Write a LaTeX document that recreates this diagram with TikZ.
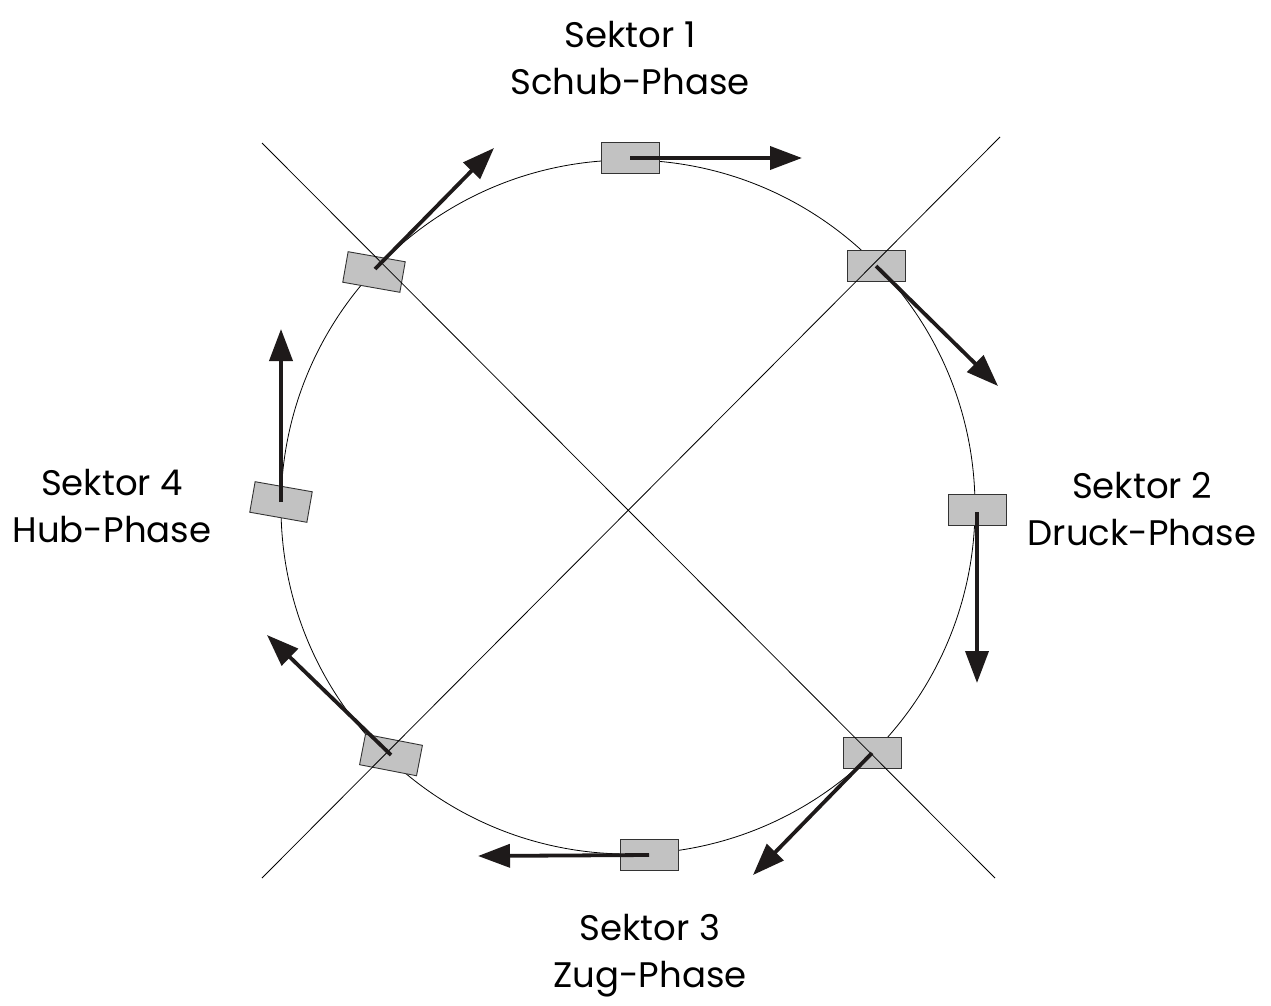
\documentclass[tikz,border=0pt]{standalone}
\usepackage{fontspec}
\setmainfont{Poppins}
\usetikzlibrary{arrows.meta}
\definecolor{boxgray}{RGB}{194,194,194}
\definecolor{inkdark}{RGB}{30,26,26}
\tikzset{
  slider/.style={draw=black!80, line width=0.9pt, fill=boxgray,
    minimum width=58pt, minimum height=31pt, inner sep=0pt},
  thinline/.style={line width=0.8pt, draw=black},
  push/.style={draw=inkdark, line width=3.8pt,
    -{Triangle[length=32pt,width=23pt]}},
  sectorlabel/.style={align=center, font=\fontsize{35.5}{47}\selectfont}
}
\begin{document}
\begin{tikzpicture}[x=1pt,y=-1pt]
  \useasboundingbox (0,0) rectangle (1271,1006);

  % guide circle
  \draw[thinline] (628,507) circle[radius=347];

  % sliders on the circle
  \node[slider] (b1) at (630,158) {};
  \node[slider] (b2) at (876,266) {};
  \node[slider] (b3) at (977,510) {};
  \node[slider] (b4) at (872,753) {};
  \node[slider] (b5) at (649,855) {};
  \node[slider, rotate=-11] (b6) at (391,755) {};
  \node[slider, rotate=-10] (b7) at (281,502) {};
  \node[slider, rotate=-10] (b8) at (374,272) {};

  % sector boundaries, drawn over the sliders
  \coordinate (d1a) at (262,143);
  \coordinate (d1b) at (995,878);
  \coordinate (d2a) at (1000,137);
  \coordinate (d2b) at (262,878);
  \draw[thinline] (d1a) -- (d1b);
  \draw[thinline] (d2a) -- (d2b);

  % arrow tips
  \coordinate (t1) at (802,158);
  \coordinate (t2) at (998,386);
  \coordinate (t3) at (977,683);
  \coordinate (t4) at (753,875);
  \coordinate (t5) at (478,856);
  \coordinate (t6) at (267,635);
  \coordinate (t7) at (281,329);
  \coordinate (t8) at (494,148);

  \draw[push] (b1.center) -- (t1);
  \draw[push] (b2.center) -- (t2);
  \draw[push] ([yshift=-2pt]b3.center) -- (t3);
  \draw[push] (b4.center) -- (t4);
  \draw[push] (b5.center) -- (t5);
  \draw[push] (b6.center) -- (t6);
  \draw[push] (b7.center) -- (t7);
  \draw[push] ([shift={(1,-3)}]b8.center) -- (t8);

  % sector labels
  \node[sectorlabel] (s1) at (630,58) {Sektor 1\\Schub-Phase};
  \node[sectorlabel] (s2) at (1142,509) {Sektor 2\\Druck-Phase};
  \node[sectorlabel] (s3) at (650,956) {Sektor 3\\Zug-Phase};
  \node[sectorlabel] (s4) at (112,506) {Sektor 4\\Hub-Phase};
\end{tikzpicture}
\end{document}
